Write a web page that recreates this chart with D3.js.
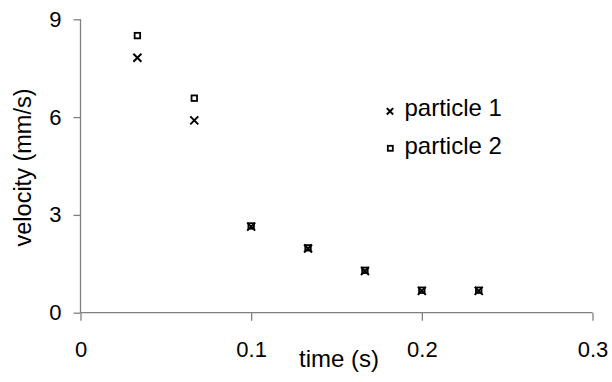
<!DOCTYPE html>
<html>
<head>
<meta charset="utf-8">
<script src="https://cdn.jsdelivr.net/npm/d3@7/dist/d3.min.js"></script>
<style>
  html, body { margin: 0; padding: 0; background: #fff; }
  svg { display: block; }
  text { font-family: "Liberation Sans", Arial, sans-serif; fill: #000; }
</style>
</head>
<body>
<svg id="chart" width="612" height="382"></svg>
<script>
// Measurement times (s), one frame every 1/30 s
const times = [1/30, 2/30, 3/30, 4/30, 5/30, 6/30, 7/30];
// Velocities (mm/s)
const particle1 = [7.82, 5.90, 2.64, 1.97, 1.28, 0.67, 0.67];
const particle2 = [8.50, 6.58, 2.66, 1.99, 1.30, 0.69, 0.69];
const seriesNames = ["particle 1", "particle 2"];
const xTicks = [0, 0.1, 0.2, 0.3];
const yTicks = [0, 3, 6, 9];

const svg = d3.select("#chart");
const plotLeft = 80.5, plotRight = 592.5, plotTop = 19.3, plotBottom = 312.7;

const x = d3.scaleLinear().domain([0, 0.3]).range([plotLeft, plotRight]);
const y = d3.scaleLinear().domain([0, 9]).range([plotBottom, plotTop]);

const axisColor = "#808080";

// y axis
const gy = svg.append("g")
  .attr("transform", `translate(${plotLeft},0)`)
  .call(d3.axisLeft(y).tickValues(yTicks).tickSize(7).tickPadding(12)
    .tickFormat(d3.format("d")));
// x axis
const gx = svg.append("g")
  .attr("transform", `translate(0,${plotBottom})`)
  .call(d3.axisBottom(x).tickValues(xTicks).tickSize(8).tickPadding(21)
    .tickFormat(d => d === 0 ? "0" : d3.format(".1f")(d)));

[gx, gy].forEach(g => {
  g.selectAll(".domain, .tick line").attr("stroke", axisColor).attr("stroke-width", 1.3);
  g.selectAll("text").attr("fill", "#000").style("font-size", "22px")
    .attr("font-family", null);
});
gx.selectAll(".domain").attr("d", `M${plotLeft},0H${plotRight}`);
gy.selectAll(".domain").attr("d", `M0,${plotTop}V${plotBottom}`);

// axis titles
svg.append("text")
  .attr("x", 339).attr("y", 367)
  .attr("text-anchor", "middle")
  .style("font-size", "24px")
  .text("time (s)");
svg.append("text")
  .attr("transform", `translate(31,167.5) rotate(-90)`)
  .attr("text-anchor", "middle")
  .style("font-size", "23.5px")
  .text("velocity (mm/s)");

// marker shapes
function cross(g, cx, cy, r) {
  g.append("path")
    .attr("d", `M${cx - r},${cy - r}L${cx + r},${cy + r}M${cx - r},${cy + r}L${cx + r},${cy - r}`)
    .attr("stroke", "#000").attr("stroke-width", 2).attr("fill", "none");
}
function square(g, cx, cy, s) {
  g.append("rect")
    .attr("x", cx - s / 2).attr("y", cy - s / 2)
    .attr("width", s).attr("height", s)
    .attr("stroke", "#000").attr("stroke-width", 1.8).attr("fill", "#fff");
}

const marks = svg.append("g");
times.forEach((t, i) => square(marks, x(t), y(particle2[i]), 5.5));
times.forEach((t, i) => cross(marks, x(t), y(particle1[i]), 4));

// legend
const legend = svg.append("g");
cross(legend, 390, 111.3, 3.2);
square(legend, 390.3, 148.3, 5);
legend.append("text").attr("x", 404.5).attr("y", 116).style("font-size", "24px").text(seriesNames[0]);
legend.append("text").attr("x", 404.5).attr("y", 154).style("font-size", "24px").text(seriesNames[1]);
</script>
</body>
</html>
